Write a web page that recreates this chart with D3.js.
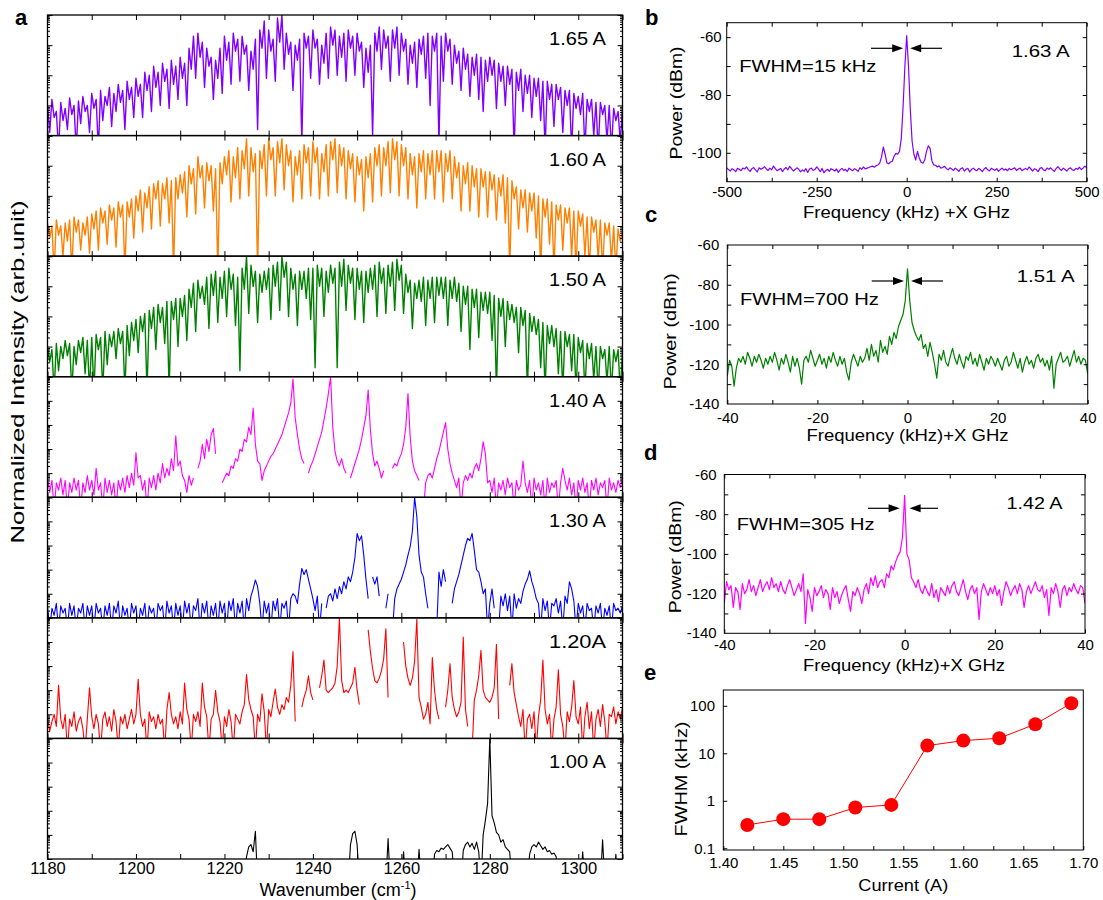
<!DOCTYPE html>
<html><head><meta charset="utf-8">
<script src="https://cdn.jsdelivr.net/npm/d3@7"></script>
<style>body{margin:0;background:#fff}</style>
</head><body><svg id="chart" width="1103" height="900"></svg>
<script>
// ---------------- DATA ----------------
// Panel a: log10 intensity (decades above panel floor), one value every 0.5 cm-1 from 1180
const wnStart = 1180, wnStep = 0.5;
const S165 = [
1.0,0.1,1.2,0.6,0.8,-0.5,1.1,0.5,0.9,0.2,1.25,0.7,1.0,-0.5,1.15,0.4,1.3,0.8,1.0,0.1,
1.4,0.9,1.2,-0.5,1.5,0.5,1.3,1.0,1.6,0.3,1.4,0.8,1.7,1.1,1.5,0.2,1.8,1.2,1.6,0.6,
1.9,1.3,1.7,0.6,2.1,1.5,2.0,0.8,2.3,1.6,2.1,1.0,2.4,1.8,2.2,0.9,2.5,1.7,2.3,1.2,
2.6,1.9,2.4,1.0,2.9,2.2,3.3,1.9,3.4,2.6,3.1,1.6,2.9,2.3,2.6,1.2,2.5,1.9,2.9,1.4,
3.3,2.5,3.1,1.7,3.4,2.8,3.2,1.8,3.3,2.7,3.0,1.5,2.8,2.2,3.2,0.2,3.5,2.9,3.8,1.9,
3.5,2.8,3.2,1.8,3.9,3.1,4.0,2.2,3.4,2.7,3.1,1.5,3.0,2.5,3.2,-0.3,3.4,2.9,3.3,1.9,
3.5,2.9,3.2,1.7,3.0,2.4,3.4,1.9,3.6,3.0,3.5,2.0,3.3,2.6,3.4,1.8,3.5,2.9,3.3,2.0,
3.4,2.8,3.1,1.6,2.9,2.1,3.0,0.0,3.4,2.8,3.6,2.2,3.5,2.9,3.3,1.8,3.5,2.9,3.6,2.0,
3.4,2.8,3.2,1.7,3.0,2.4,3.1,1.6,3.2,2.7,3.3,1.9,3.4,1.0,3.3,2.8,3.4,-0.3,3.3,1.8,
3.4,2.8,3.2,1.7,3.0,2.4,2.8,1.5,2.9,2.2,2.7,1.3,2.6,2.0,2.7,1.2,2.6,0.8,2.5,1.8,
2.6,2.0,2.5,0.9,2.4,1.8,2.3,1.0,2.3,1.7,2.2,-0.5,2.1,1.5,2.2,0.8,2.0,1.4,2.0,0.6,
1.9,1.3,1.9,0.5,1.8,-0.5,1.8,1.2,1.7,0.3,1.7,1.2,1.6,0.1,1.5,1.0,1.5,-0.5,1.4,0.9,
1.3,0.7,1.4,-0.5,1.2,0.8,1.2,0.0,1.1,-0.5,1.1,0.7,1.0,-0.2,1.0,-0.5,0.9,0.5,0.8,-0.2,
0.9];
const S160 = [
1.1,0.6,1.0,-0.5,1.2,0.7,1.0,0.0,1.1,0.5,1.2,-0.5,1.3,0.8,1.2,0.2,1.1,0.7,1.3,0.1,
1.4,0.9,1.5,0.2,1.6,1.1,1.5,0.4,1.7,1.2,1.6,0.3,1.8,1.3,1.7,-0.5,1.8,1.3,1.9,0.6,
2.0,1.5,2.2,0.8,2.1,1.6,2.3,0.9,2.4,1.9,2.5,1.0,2.4,1.9,2.6,1.1,2.5,-0.5,2.6,1.9,
2.7,2.1,2.8,1.3,3.0,2.4,2.9,1.4,3.3,2.6,3.0,1.6,3.1,2.5,3.0,1.5,2.9,-0.5,3.1,2.4,
3.3,2.7,3.5,1.8,3.3,2.6,3.6,1.9,3.5,2.9,3.9,2.0,3.6,2.8,3.4,-0.5,3.5,2.9,3.7,2.0,
3.9,3.2,3.6,2.0,3.8,3.1,3.9,2.2,3.7,3.0,3.5,1.8,3.3,2.7,3.5,1.9,3.7,3.1,3.6,2.0,
3.8,3.1,3.6,1.9,3.4,2.8,3.7,2.0,3.8,3.2,3.9,2.1,3.7,3.0,3.6,1.9,3.5,2.9,3.4,1.8,
3.3,2.7,3.2,1.5,3.3,2.6,3.4,1.8,3.6,3.0,3.7,2.0,3.6,3.0,3.8,2.1,3.9,3.2,3.8,2.0,
3.7,3.0,3.6,1.9,3.4,2.7,3.3,1.6,3.4,2.8,3.5,1.9,3.4,2.7,3.5,1.9,3.5,2.8,3.5,1.8,
3.4,2.8,3.5,1.9,3.3,2.6,3.1,1.5,3.0,2.4,3.1,1.5,3.0,2.3,2.9,1.3,2.9,2.3,2.8,1.3,
2.8,2.2,2.7,1.2,2.6,2.0,2.7,1.1,2.6,-0.5,2.5,1.9,2.3,0.9,2.2,1.6,2.2,0.8,2.1,1.5,
2.1,0.6,2.0,-0.5,1.9,1.3,1.9,0.4,1.8,-0.5,1.7,1.2,1.7,0.2,1.6,1.1,1.6,0.0,1.5,-0.5,
1.5,1.0,1.4,0.0,1.3,-0.5,1.3,0.8,1.2,-0.1,1.2,-0.5,1.1,0.7,1.1,-0.2,1.0,-0.5,0.9,0.5,
0.85];
const S150 = [
1.0,0.5,0.9,-0.5,1.1,0.2,1.0,0.6,1.2,0.7,1.1,-0.5,1.0,0.4,1.2,0.8,1.3,0.1,1.2,-0.5,
1.3,-0.5,1.4,0.9,1.3,-0.5,1.5,0.4,1.4,1.0,1.5,0.6,1.6,1.1,1.5,-0.5,1.7,0.7,1.8,1.2,
1.9,0.8,2.0,1.5,2.1,-0.5,2.2,1.6,2.3,0.9,2.4,1.8,2.3,1.1,2.5,-0.5,2.5,1.9,2.6,1.0,
2.6,2.0,2.7,1.2,2.9,2.3,3.1,1.5,3.2,2.6,3.0,2.4,3.3,1.6,3.4,2.7,3.5,1.8,3.3,2.6,
3.5,2.0,3.6,2.9,3.4,1.7,3.3,0.2,3.6,2.9,4.0,2.1,3.7,3.0,3.5,1.8,3.4,2.8,3.5,2.9,
3.6,1.9,3.7,3.0,3.8,2.2,4.0,3.3,3.8,2.0,3.6,2.9,3.4,1.7,3.5,2.9,3.5,2.6,3.6,1.9,
3.6,0.3,3.7,3.0,3.6,2.0,3.5,2.8,3.7,3.1,3.6,0.3,3.8,3.0,3.9,2.2,3.7,3.1,3.6,1.9,
3.6,2.9,3.5,1.8,3.5,2.8,3.6,2.9,3.7,2.0,3.8,3.1,3.6,2.1,3.7,3.0,3.8,2.2,3.9,3.2,
3.7,2.1,3.4,2.8,3.2,1.6,3.1,2.6,3.2,2.5,3.3,1.7,3.2,2.6,3.3,1.8,3.3,2.7,3.3,2.6,
3.3,1.7,3.2,2.6,3.3,2.5,3.1,1.5,3.0,2.4,3.0,0.9,2.9,2.3,2.9,1.3,2.8,2.2,2.8,2.1,
2.8,1.2,2.7,-0.5,2.6,2.0,2.6,1.0,2.5,1.9,2.4,1.8,2.3,0.8,2.3,1.7,2.2,-0.5,2.1,1.5,
2.0,1.4,1.9,0.3,1.8,-0.5,1.7,1.1,1.7,1.0,1.6,0.1,1.5,-0.5,1.5,1.0,1.4,0.2,1.4,-0.5,
1.3,0.8,1.2,-0.5,1.1,0.6,1.1,-0.1,1.0,-0.5,1.0,0.6,0.9,-0.2,1.0,-0.5,0.9,0.5,0.9,-0.5,
0.87];
const S140 = [
0.8,0.2,0.7,-0.5,0.6,0.3,0.8,0.1,0.7,-0.5,0.6,0.2,0.8,0.3,0.7,-0.5,0.6,0.2,0.9,0.3,
0.7,0.1,1.2,0.3,0.6,-0.5,0.8,0.2,0.7,0.1,0.6,-0.5,0.7,0.3,0.8,0.2,0.9,0.4,1.0,0.5,
1.85,0.8,0.9,0.3,0.7,-0.5,0.8,0.4,0.9,0.3,1.0,0.6,1.4,0.8,1.2,0.9,1.6,1.1,2.55,1.3,
1.5,0.9,0.7,0.2,0.9,0.5,0.8,null,1.2,1.5,2.2,1.6,2.4,1.9,2.6,2.85,1.8,null,null,0.6,
0.8,1.0,0.9,1.3,1.2,1.6,1.5,2.0,1.9,2.4,2.3,2.9,2.6,3.7,2.2,1.5,1.4,0.7,1.1,1.3,
1.5,1.7,1.8,2.0,2.2,2.4,2.6,2.9,3.2,3.5,3.9,4.9,3.3,2.6,2.0,1.6,1.4,null,1.0,1.3,
1.5,1.8,2.1,2.4,2.7,3.2,3.7,4.3,5.0,2.9,1.9,1.5,1.3,1.6,1.2,1.0,null,0.8,1.1,1.4,
1.7,2.0,2.4,2.9,3.4,4.45,2.8,1.8,1.3,1.5,1.2,0.8,1.1,null,-0.5,null,1.2,1.4,1.3,1.6,
1.8,2.2,2.9,4.3,2.5,1.5,1.1,0.9,0.7,null,-0.5,0.6,0.9,1.0,0.8,1.2,1.6,1.9,2.3,2.7,
3.1,2.0,1.4,1.0,0.7,0.4,0.8,-0.5,0.6,0.9,0.7,1.0,0.8,1.2,1.4,1.1,1.6,2.3,1.8,0.6,
0.7,0.2,0.8,-0.5,0.6,0.3,0.7,0.1,0.8,0.4,0.6,-0.5,0.7,0.3,0.5,1.5,0.6,0.2,0.7,-0.5,
0.8,0.3,0.6,0.1,0.7,-0.5,0.8,0.2,0.6,0.4,0.7,-0.5,0.6,1.2,0.7,0.3,0.8,0.1,0.6,-0.5,
0.7,0.3,0.8,0.2,0.6,-0.5,0.7,0.3,0.8,0.1,0.6,0.4,0.7,-0.5,0.8,0.3,0.6,0.2,0.7,0.4,
0.8];
const S130 = [
0.5,-0.5,0.4,0.1,0.6,-0.5,0.5,0.2,0.4,-0.5,0.6,0.1,0.5,-0.5,0.4,0.2,0.6,-0.5,0.5,0.1,
0.5,-0.5,0.6,0.2,0.4,-0.5,0.5,0.1,0.6,-0.5,0.5,0.2,0.7,-0.5,0.5,0.1,0.4,-0.5,0.6,0.2,
0.5,-0.5,0.4,0.1,0.6,-0.5,0.5,0.2,0.4,-0.5,0.6,0.3,0.5,-0.5,0.7,0.2,0.5,-0.5,0.6,0.1,
0.5,-0.5,0.7,0.2,0.6,-0.5,0.5,0.3,0.8,-0.5,0.6,0.2,0.7,-0.5,0.5,0.1,0.6,-0.5,0.7,0.2,
0.6,-0.5,0.7,0.3,0.8,-0.5,0.6,0.2,0.7,-0.5,0.8,0.3,0.9,1.2,1.57,1.3,0.6,-0.5,0.7,0.2,
0.6,-0.5,0.7,0.3,0.8,-0.5,0.6,0.4,0.7,-0.5,0.8,1.0,0.9,0.6,1.4,2.05,1.8,2.0,1.6,1.2,
0.8,0.3,0.9,-0.5,0.6,null,0.4,0.9,1.0,0.7,1.2,0.8,1.3,1.0,1.5,1.2,1.7,1.5,1.9,2.5,
3.5,3.2,3.4,2.6,1.6,0.8,null,1.7,1.4,1.7,0.9,null,null,0.4,1.0,null,-0.5,0.8,1.2,1.4,
1.6,1.9,2.2,2.6,2.95,3.6,5.0,4.2,2.6,1.9,1.7,1.0,0.4,null,null,null,-0.5,1.9,1.3,2.0,
1.5,null,null,0.6,1.2,1.5,1.8,2.2,2.6,3.0,3.3,3.2,3.5,2.8,2.0,1.9,1.5,1.0,1.2,-0.5,
0.6,1.2,0.4,null,-0.5,0.9,0.5,1.0,0.3,0.9,-0.5,1.0,0.4,0.8,0.6,1.1,1.4,1.6,1.95,1.5,
1.2,0.8,0.6,-0.5,0.8,0.3,0.7,-0.5,0.6,0.5,0.8,0.2,0.7,-0.5,0.9,0.6,1.5,1.2,0.7,-0.5,
0.6,0.2,0.5,-0.5,0.6,0.3,0.4,-0.5,0.5,0.2,0.6,-0.5,0.4,0.1,0.5,-0.5,0.6,0.3,0.4,0.2,
0.5];
const S120 = [
0.9,0.3,0.7,1.0,0.5,2.2,0.8,0.4,1.0,-0.5,0.8,0.5,1.1,0.3,0.7,0.9,0.4,-0.5,0.8,2.1,
0.9,0.4,1.0,0.6,-0.5,0.8,1.1,0.5,0.9,0.3,1.2,0.7,-0.5,0.9,0.6,1.0,0.4,0.8,1.2,0.6,
1.0,2.45,1.0,0.5,0.8,-0.5,1.1,0.7,0.9,0.4,1.0,0.6,0.8,-0.5,1.2,1.9,1.0,0.6,0.9,0.4,
1.1,0.6,2.3,1.2,0.8,-0.5,1.0,0.7,1.1,0.5,2.3,1.3,0.9,-0.5,0.8,1.0,2.0,1.1,0.7,-0.5,
0.9,0.5,1.2,0.7,-0.5,1.0,0.8,0.6,1.1,1.4,2.65,1.6,1.2,0.9,-0.5,1.0,0.7,1.85,1.1,-0.5,
1.2,0.9,1.5,2.05,1.3,1.0,1.4,1.2,1.7,1.5,2.2,3.6,0.7,null,null,1.3,1.7,2.0,2.6,1.9,
1.6,null,null,2.1,2.6,3.25,2.0,1.9,2.0,2.1,2.3,3.0,5.0,2.4,1.9,2.0,1.9,2.1,2.3,2.95,
2.0,1.4,null,null,null,4.5,3.6,2.9,2.4,2.3,2.5,2.8,3.3,4.55,1.7,null,null,null,null,null,
null,4.0,3.0,2.5,2.2,2.5,3.2,4.95,1.7,1.3,0.8,1.0,1.5,0.6,3.35,2.0,1.2,0.8,null,null,
1.3,2.0,3.1,1.7,1.2,0.9,1.1,1.5,4.2,1.2,0.5,null,-0.5,1.6,2.0,2.6,3.65,2.0,1.7,1.6,
1.5,1.7,2.1,3.9,0.8,null,null,null,null,2.2,3.1,1.9,1.4,0.9,0.5,1.2,-0.5,0.8,1.0,0.4,
1.1,-0.5,0.9,1.6,3.25,1.2,0.6,1.0,-0.5,0.8,1.3,2.85,1.0,0.5,-0.5,1.1,0.7,1.3,2.4,0.9,
0.6,1.3,-0.5,0.9,1.5,0.4,1.1,-0.5,0.8,1.2,0.5,1.4,0.7,-0.5,1.0,0.9,1.3,0.6,1.1,0.8,
1.3];
const S100 = [
-1,-1,-1,-1,-1,-1,-1,-1,-1,-1,-1,-1,-1,-1,-1,-1,-1,-1,-1,-1,
-1,-1,-1,-1,-1,-1,-1,-1,-1,-1,-1,-1,-1,-1,-1,-1,-1,-1,-1,-1,
-1,-1,-1,-1,-1,-1,-1,-1,-1,-1,-1,-1,-1,-1,-1,-1,-1,-1,-1,-1,
-1,-1,-1,-1,-1,-1,-1,-1,-1,-1,-1,-1,-1,-1,-1,-1,-1,-1,-1,-1,
-1,-1,-1,-1,-1,-1,-1,-1,-1,-1,0.1,0.5,0.6,0.3,1.15,-1,-1,-1,-1,-1,
-1,-1,-1,-1,-1,-1,-1,-1,-1,-1,-1,-1,-1,-1,-1,-1,-1,-1,-1,-1,
-1,-1,-1,-1,-1,-1,-1,-1,-1,-1,-1,-1,-1,-1,-1,-1,-1,0.6,1.05,1.15,
0.6,-1,-1,-1,-1,-1,-1,-1,-1,-1,-1,-1,-1,-1,0.85,-1,-1,-1,-1,-1,
-1,0.3,-1,-1,-1,-1,-1,-1,0.4,-1,-1,-1,-1,-1,-1,0.2,0.35,0.3,0.45,0.4,
0.5,0.6,0.45,0.3,-1,-1,-1,-1,0.35,0.6,0.7,0.5,0.65,0.4,0.7,0.3,-1,1.0,1.6,2.3,
5.0,1.8,1.5,1.1,1.0,0.7,0.8,0.5,0.4,0.3,-1,-1,-1,-1,-1,-1,-1,-1,0.2,0.5,
0.6,0.5,0.7,0.55,0.4,0.5,0.3,0.35,0.2,0.25,0.1,-1,-1,-1,-1,-1,-1,-1,-1,-1,
-1,-1,0.3,-1,-1,-1,-1,-1,-1,-1,-1,0.8,-1,-1,-1,-1,-1,0.2,-1,-1,
-1];
const spectraLabels = ["1.65 A","1.60 A","1.50 A","1.40 A","1.30 A","1.20A","1.00 A"];
const spectraColors = ["#8000ff","#ff8000","#008000","#ff00ff","#0000ff","#ff0000","#000000"];
const spectraDecades = [4,4,4,5,5,5,5];
const wnTicks = [1180,1190,1200,1210,1220,1230,1240,1250,1260,1270,1280,1290,1300,1310];
const wnLabels = [1180,1200,1220,1240,1260,1280,1300];

// Panel b: power (dBm), every 5 kHz from -500
const bStart = -500, bStep = 5;
const PB = [
-105.2,-105.8,-106.3,-105.5,-105.9,-106.5,-105.4,-105.7,-106.2,-105.3,-105.6,-104.9,-105.8,-106.4,-105.5,-105.1,-105.9,-106.6,-105.2,-105.7,
-105.4,-104.8,-105.6,-106.1,-105.3,-105.9,-104.6,-105.5,-106.2,-105.8,-105.4,-106.5,-105.6,-105.1,-105.9,-104.7,-105.5,-106.3,-105.8,-105.2,
-105.7,-106.6,-105.9,-106.4,-105.5,-106.8,-105.6,-105.3,-106.1,-105.8,-104.9,-105.6,-106.5,-105.4,-106.9,-106.2,-105.7,-106.4,-105.5,-105.9,
-106.3,-105.6,-106.8,-105.9,-105.4,-106.1,-105.7,-106.5,-105.3,-105.8,-106.2,-105.5,-105.9,-106.4,-105.2,-105.7,-104.9,-105.6,-105.3,-105.1,
-104.8,-104.6,-105.0,-104.5,-104.2,-103.6,-101.5,-98.0,-100.5,-103.5,-103.8,-103.2,-102.9,-101.2,-100.2,-100.5,-99.5,-95,-84,-70,
-59.5,-70,-85,-96,-100.5,-102.5,-99.5,-101.8,-103.3,-103.6,-102.5,-99.5,-97.6,-98.5,-102.8,-104.2,-104.3,-104.9,-104.5,-105.3,
-105.1,-104.7,-105.4,-105.9,-105.2,-105.6,-106.1,-105.3,-105.8,-106.4,-105.5,-105.2,-106.3,-105.7,-105.4,-106.6,-105.8,-105.3,-105.9,-106.2,
-105.4,-105.8,-106.5,-105.6,-105.1,-105.9,-106.3,-105.4,-105.7,-106.1,-105.5,-106.4,-105.8,-105.3,-106.0,-105.6,-106.2,-105.4,-105.9,-105.5,
-105.2,-106.1,-105.6,-105.3,-106.2,-105.8,-105.4,-105.9,-104.9,-105.6,-106.3,-105.5,-105.8,-106.5,-105.4,-105.1,-105.9,-106.2,-105.3,-105.7,
-105.2,-105.9,-106.4,-105.5,-104.8,-105.6,-106.1,-105.3,-105.8,-106.3,-105.5,-105.2,-105.9,-106.1,-105.4,-105.7,-105.0,-105.8,-105.3,-104.6,
-105.2];
// Panels c and d: power (dBm), every 0.5 kHz from -40
const cdStart = -40, cdStep = 0.5;
const PC = [
-126,-118,-121,-131,-122,-117,-119,-116,-120,-114,-117,-121,-116,-119,-115,-118,-122,-117,-120,-116,
-119,-114,-118,-123,-117,-120,-115,-119,-124,-116,-121,-117,-122,-130,-118,-116,-119,-113,-117,-121,
-118,-115,-120,-117,-122,-116,-119,-114,-118,-121,-116,-120,-117,-124,-128,-119,-115,-118,-121,-116,
-119,-117,-112,-118,-110,-116,-113,-119,-108,-114,-111,-115,-106,-110,-104,-107,-101,-98,-95,-88,
-72,-88,-99,-103,-106,-108,-105,-112,-110,-116,-109,-114,-120,-127,-115,-118,-113,-119,-121,-116,
-112,-117,-120,-115,-119,-122,-116,-118,-114,-120,-117,-121,-115,-119,-123,-117,-120,-116,-118,-121,
-117,-120,-123,-118,-116,-121,-119,-114,-118,-122,-117,-124,-119,-116,-120,-118,-122,-117,-115,-119,
-117,-121,-118,-123,-116,-132,-120,-117,-114,-119,-118,-116,-121,-117,-113,-119,-116,-120,-117,-118,
-125];
const PD = [
-125,-114,-118,-116,-127,-117,-119,-128,-115,-120,-118,-113,-119,-116,-121,-117,-113,-119,-116,-114,
-118,-112,-117,-115,-119,-114,-118,-120,-116,-113,-117,-121,-118,-115,-119,-110,-135,-118,-122,-129,
-117,-121,-119,-116,-122,-118,-120,-128,-117,-122,-119,-125,-121,-118,-116,-123,-129,-119,-121,-117,
-120,-125,-118,-115,-120,-112,-116,-111,-117,-114,-113,-117,-110,-112,-106,-108,-104,-101,-99,-92,
-70.5,-100,-103,-112,-114,-117,-113,-118,-120,-116,-119,-121,-115,-122,-118,-124,-117,-119,-121,-116,
-120,-116,-114,-119,-121,-117,-113,-119,-123,-118,-116,-120,-117,-133,-119,-115,-118,-121,-117,-120,
-116,-121,-118,-126,-119,-114,-117,-121,-118,-116,-120,-115,-118,-127,-119,-116,-120,-117,-114,-118,
-119,-116,-122,-118,-131,-117,-120,-115,-119,-127,-118,-116,-121,-117,-119,-115,-118,-120,-116,-117,
-125];
// Panel e
const eCurrent = [1.42,1.45,1.48,1.51,1.54,1.57,1.60,1.63,1.66,1.69];
const eFWHM = [0.31,0.41,0.41,0.72,0.82,14.5,18.5,20.8,41,113];

// ---------------- DRAWING ----------------
const FONT = '"Liberation Sans", Arial, Helvetica, sans-serif';
const svg = d3.select("#chart");
let clipN = 0;

function cleanAxis(g, size) {
  g.attr("font-family", FONT).attr("font-size", size);
  g.select(".domain").remove();
  g.selectAll("line").attr("stroke", "#000").attr("stroke-width", 1);
  g.selectAll("text").attr("fill", "#000");
  return g;
}
function addText(x, y, s, size, opt = {}) {
  const t = svg.append("text").attr("x", x).attr("y", y).text(s)
    .attr("font-family", FONT).attr("font-size", size).attr("fill", "#000")
    .attr("text-anchor", opt.anchor || "start");
  if (opt.weight) t.attr("font-weight", opt.weight);
  if (opt.len) t.attr("textLength", opt.len).attr("lengthAdjust", "spacingAndGlyphs");
  return t;
}
function addVText(x, y, s, size, len) {
  const t = svg.append("text").attr("transform", `translate(${x},${y}) rotate(-90)`)
    .attr("text-anchor", "middle").attr("font-family", FONT).attr("font-size", size).text(s);
  if (len) t.attr("textLength", len).attr("lengthAdjust", "spacingAndGlyphs");
  return t;
}
function clipRect(x0, y0, x1, y1) {
  const id = "clip" + (clipN++);
  svg.append("clipPath").attr("id", id).append("rect")
    .attr("x", x0).attr("y", y0).attr("width", x1 - x0).attr("height", y1 - y0);
  return `url(#${id})`;
}

// ---- Panel a ----
const A = {x0: 47.5, x1: 622.5, top: 15, bottom: 859};
const xA = d3.scaleLinear().domain([1180, 1310]).range([A.x0, A.x1]);
const ph = (A.bottom - A.top) / 7;
[S165, S160, S150, S140, S130, S120, S100].forEach((vals, i) => {
  const t = A.top + i * ph, b = t + ph;
  const y = d3.scaleLog().domain([1, Math.pow(10, spectraDecades[i])]).range([b, t]);
  const line = d3.line().defined(d => d !== null)
    .x((d, j) => xA(wnStart + j * wnStep)).y(d => y(Math.pow(10, d)));
  svg.append("path").attr("clip-path", clipRect(A.x0, t, A.x1, b))
    .attr("d", line(vals)).attr("fill", "none").attr("stroke", spectraColors[i])
    .attr("stroke-width", i < 3 ? 1.4 : 1.1).attr("stroke-linejoin", "round");
  const all = y.ticks();
  const majors = all.filter(v => Math.abs(Math.log10(v) - Math.round(Math.log10(v))) < 1e-9);
  const minors = all.filter(v => !majors.includes(v));
  [[d3.axisLeft, A.x0], [d3.axisRight, A.x1]].forEach(([fn, xx]) => {
    cleanAxis(svg.append("g").attr("transform", `translate(${xx},0)`)
      .call(fn(y).tickValues(majors).tickSize(-5).tickSizeOuter(0).tickFormat("")), 10);
    cleanAxis(svg.append("g").attr("transform", `translate(${xx},0)`)
      .call(fn(y).tickValues(minors).tickSize(-2.5).tickSizeOuter(0).tickFormat("")), 10);
  });
  cleanAxis(svg.append("g").attr("transform", `translate(0,${t})`)
    .call(d3.axisTop(xA).tickValues(wnTicks).tickSize(-5).tickSizeOuter(0).tickFormat("")), 10);
  const isLast = i === 6;
  cleanAxis(svg.append("g").attr("transform", `translate(0,${b})`)
    .call(d3.axisBottom(xA).tickValues(wnTicks).tickSize(-5).tickSizeOuter(0).tickPadding(3)
      .tickFormat(d => (isLast && wnLabels.includes(d)) ? d : "")), 16.5);
  svg.append("rect").attr("x", A.x0).attr("y", t).attr("width", A.x1 - A.x0).attr("height", b - t)
    .attr("fill", "none").attr("stroke", "#000").attr("stroke-width", 1.3);
  addText(606, t + 30, spectraLabels[i], 19, {anchor: "end", len: 57});
});
addVText(24, 372, "Normalized Intensity (arb.unit)", 19, 343);
{
  const t = addText(338, 896, "Wavenumber (cm", 18, {anchor: "middle"});
  t.append("tspan").attr("dy", -7).attr("font-size", 11).text("-1");
  t.append("tspan").attr("dy", 7).text(")");
}
addText(15, 25, "a", 22, {weight: "bold"});

// ---- Panels b, c, d ----
function addTickCorner(x0, top, bottom, labels, pad) {
  addText(x0 - pad, top + 5, labels[0], 15, {anchor: "end"});
  addText(x0 - pad, bottom + 5, labels[1], 15, {anchor: "end"});
}
function powerPanel(o) {
  const x = d3.scaleLinear().domain(o.xdom).range([o.x0, o.x1]);
  const y = d3.scaleLinear().domain(o.ydom).range([o.bottom, o.top]);
  const line = d3.line().x((d, j) => x(o.start + j * o.step)).y(d => y(d));
  svg.append("path").attr("clip-path", clipRect(o.x0, o.top, o.x1, o.bottom))
    .attr("d", line(o.data)).attr("fill", "none").attr("stroke", o.color)
    .attr("stroke-width", 1.2).attr("stroke-linejoin", "round");
  cleanAxis(svg.append("g").attr("transform", `translate(0,${o.bottom})`)
    .call(d3.axisBottom(x).tickValues(o.xticks).tickSize(-4).tickSizeOuter(0).tickPadding(o.xpad)
      .tickFormat(d => o.xlabels.includes(d) ? d : "")), 15);
  cleanAxis(svg.append("g").attr("transform", `translate(0,${o.top})`)
    .call(d3.axisTop(x).tickValues(o.xticks).tickSize(-4).tickSizeOuter(0).tickFormat("")), 15);
  cleanAxis(svg.append("g").attr("transform", `translate(${o.x0},0)`)
    .call(d3.axisLeft(y).tickValues(o.yticks).tickSize(-4).tickSizeOuter(0).tickPadding(o.ypad)
      .tickFormat(d => o.ylabels.includes(d) ? d : "")), 15);
  cleanAxis(svg.append("g").attr("transform", `translate(${o.x1},0)`)
    .call(d3.axisRight(y).tickValues(o.yticks).tickSize(-4).tickSizeOuter(0).tickFormat("")), 15);
  svg.append("rect").attr("x", o.x0).attr("y", o.top).attr("width", o.x1 - o.x0).attr("height", o.bottom - o.top)
    .attr("fill", "none").attr("stroke", "#000").attr("stroke-width", 1);
  addText(o.fwhm[0], o.fwhm[1], o.fwhm[2], 17, {len: o.fwhm[3]});
  addText(o.cur[0], o.cur[1], o.cur[2], 17, {len: o.cur[3]});
  const px = x(0);
  [[o.arrow[0], px - o.arrow[2]], [o.arrow[1], px + o.arrow[2]]].forEach(([from, to]) => {
    const dir = Math.sign(to - from);
    svg.append("line").attr("x1", from).attr("x2", to - dir * 8).attr("y1", o.arrowY).attr("y2", o.arrowY)
      .attr("stroke", "#000").attr("stroke-width", 1.2);
    svg.append("path").attr("d", `M${to},${o.arrowY} L${to - dir * 11},${o.arrowY - 4} L${to - dir * 11},${o.arrowY + 4} Z`)
      .attr("fill", "#000");
  });
  addVText(o.ylabX, o.ylabY, "Power (dBm)", 17, o.ylabLen);
  addText(o.xlab[0], o.xlab[1], o.xlab[2], 17, {anchor: "middle", len: o.xlab[3]});
}

powerPanel({x0: 726.7, x1: 1086.7, top: 22.7, bottom: 181.7, xdom: [-500, 500], ydom: [-110, -55],
  xticks: [-500, -375, -250, -125, 0, 125, 250, 375, 500], xlabels: [-500, -250, 0, 250, 500],
  yticks: [-100, -90, -80, -70, -60], ylabels: [-60, -80, -100], xpad: 5, ypad: 5,
  data: PB, start: bStart, step: bStep, color: "#8000ff",
  fwhm: [739.3, 71.7, "FWHM=15 kHz", 137], cur: [1011.7, 57.3, "1.63 A", 58],
  arrow: [871, 942, 3.5], arrowY: 48.3,
  ylabX: 681.5, ylabY: 103, ylabLen: 113, xlab: [906.5, 217.5, "Frequency (kHz) +X GHz", 207]});

powerPanel({x0: 727.3, x1: 1087.7, top: 245, bottom: 404, xdom: [-40, 40], ydom: [-140, -60],
  xticks: [-40, -30, -20, -10, 0, 10, 20, 30, 40], xlabels: [-40, -20, 0, 20, 40],
  yticks: [-130, -120, -110, -100, -90, -80, -70], ylabels: [-60, -80, -100, -120, -140], xpad: 8.5, ypad: 8,
  data: PC, start: cdStart, step: cdStep, color: "#008000",
  fwhm: [740, 305, "FWHM=700 Hz", 139], cur: [1016.7, 281.7, "1.51 A", 58],
  arrow: [871.7, 943, 3.5], arrowY: 281,
  ylabX: 675.5, ylabY: 331.5, ylabLen: 116, xlab: [907.5, 440.7, "Frequency (kHz)+X GHz", 202]});
addTickCorner(727.3, 245, 404, [-60, -140], 8);

powerPanel({x0: 724.3, x1: 1085, top: 474.5, bottom: 633.3, xdom: [-40, 40], ydom: [-140, -60],
  xticks: [-40, -30, -20, -10, 0, 10, 20, 30, 40], xlabels: [-40, -20, 0, 20, 40],
  yticks: [-130, -120, -110, -100, -90, -80, -70], ylabels: [-60, -80, -100, -120, -140], xpad: 6.5, ypad: 7.6,
  data: PD, start: cdStart, step: cdStep, color: "#ff00ff",
  fwhm: [736.7, 530, "FWHM=305 Hz", 138], cur: [1006.5, 509.3, "1.42 A", 56],
  arrow: [868, 938, 5], arrowY: 508.3,
  ylabX: 680.5, ylabY: 556.7, ylabLen: 113, xlab: [904, 670.7, "Frequency (kHz)+X GHz", 202]});
addTickCorner(724.3, 474.5, 633.3, [-60, -140], 7.6);

addText(645, 25, "b", 22, {weight: "bold"});
addText(645, 222, "c", 22, {weight: "bold"});
addText(644, 460, "d", 22, {weight: "bold"});
addText(644, 680, "e", 22, {weight: "bold"});

// ---- Panel e ----
{
  const E = {x0: 723.3, x1: 1083.3, top: 690, bottom: 850};
  const x = d3.scaleLinear().domain([1.40, 1.70]).range([E.x0, E.x1]);
  const y = d3.scaleLog().domain([0.092, 215]).range([E.bottom, E.top]);
  svg.append("path").attr("d", d3.line().x((d, j) => x(eCurrent[j])).y(d => y(d))(eFWHM))
    .attr("fill", "none").attr("stroke", "#ff0000").attr("stroke-width", 1);
  svg.selectAll("circle.e").data(eFWHM).enter().append("circle")
    .attr("cx", (d, j) => x(eCurrent[j])).attr("cy", d => y(d)).attr("r", 7).attr("fill", "#ff0000");
  const xt = [1.40, 1.425, 1.45, 1.475, 1.50, 1.525, 1.55, 1.575, 1.60, 1.625, 1.65, 1.675, 1.70];
  const xl = [1.40, 1.45, 1.50, 1.55, 1.60, 1.65, 1.70];
  cleanAxis(svg.append("g").attr("transform", `translate(0,${E.bottom})`)
    .call(d3.axisBottom(x).tickValues(xt).tickSize(-4).tickSizeOuter(0).tickPadding(7.7)
      .tickFormat(d => xl.some(v => Math.abs(v - d) < 1e-9) ? d3.format(".2f")(d) : "")), 15);
  cleanAxis(svg.append("g").attr("transform", `translate(${E.x0},0)`)
    .call(d3.axisLeft(y).tickValues([0.1, 1, 10, 100]).tickSize(-4).tickSizeOuter(0).tickPadding(8.3)
      .tickFormat(d => String(d))), 15);
  svg.append("rect").attr("x", E.x0).attr("y", E.top).attr("width", E.x1 - E.x0).attr("height", E.bottom - E.top)
    .attr("fill", "none").attr("stroke", "#000").attr("stroke-width", 1);
  addVText(686.5, 779, "FWHM (kHz)", 17, 115);
  addText(903.3, 891, "Current (A)", 17, {anchor: "middle", len: 90});
}
</script>
</body></html>
